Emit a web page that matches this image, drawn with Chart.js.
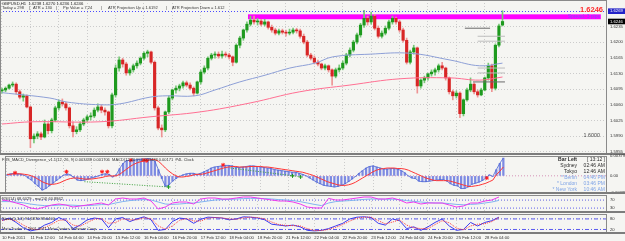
<!DOCTYPE html>
<html><head><meta charset="utf-8">
<script src="https://cdn.jsdelivr.net/npm/chart.js@4.4.1/dist/chart.umd.min.js"></script>
<style>
html,body{margin:0;padding:0;background:#f5f5f2;}
#wrap{position:relative;width:625px;height:241px;overflow:hidden;background:#f5f5f2;}
canvas{position:absolute;left:0;}
</style></head><body>
<div id="wrap">
<canvas id="c1" width="625" height="166" style="top:-6px;width:625px;height:166px"></canvas>
<canvas id="c2" width="625" height="49" style="top:150px;width:625px;height:49px"></canvas>
<canvas id="c3" width="625" height="29" style="top:189px;width:625px;height:29px"></canvas>
<canvas id="c4" width="625" height="33" style="top:208px;width:625px;height:33px"></canvas>
</div>
<script>
// ---------------- DATA ----------------
const timeLabels = ['10 Feb 2011','11 Feb 12:00','14 Feb 04:00','14 Feb 20:00','15 Feb 12:00','16 Feb 04:00','16 Feb 20:00','17 Feb 12:00','18 Feb 04:00','18 Feb 20:00','21 Feb 12:00','22 Feb 04:00','22 Feb 20:00','23 Feb 12:00','24 Feb 04:00','24 Feb 20:00','25 Feb 12:00','28 Feb 04:00'];
const timeTickIdx = [0,8,16,24,32,40,48,56,64,72,80,88,96,104,112,120,128,136];
const priceTicks = [1.5955,1.5990,1.6025,1.6060,1.6095,1.6130,1.6165,1.6200,1.6235];

const open = [1.6091,1.6093,1.6097,1.6104,1.6106,1.6089,1.6077,1.6080,1.6055,1.5984,
1.5990,1.5995,1.5988,1.6017,1.6002,1.6026,1.6053,1.6066,1.6062,1.6053,
1.6013,1.6000,1.6004,1.6017,1.6026,1.6033,1.6035,1.6048,1.6055,1.6048,
1.6044,1.6013,1.6082,1.6142,1.6160,1.6151,1.6131,1.6138,1.6147,1.6153,
1.6164,1.6175,1.6178,1.6155,1.6053,1.6008,1.6004,1.6044,1.6075,1.6093,
1.6097,1.6102,1.6109,1.6104,1.6097,1.6086,1.6111,1.6133,1.6142,1.6164,
1.6171,1.6173,1.6169,1.6173,1.6171,1.6167,1.6155,1.6193,1.6209,1.6227,
1.6240,1.6249,1.6245,1.6247,1.6240,1.6245,1.6233,1.6227,1.6220,1.6225,
1.6222,1.6220,1.6222,1.6227,1.6225,1.6213,1.6200,1.6171,1.6164,1.6155,
1.6151,1.6142,1.6147,1.6138,1.6124,1.6138,1.6142,1.6153,1.6171,1.6182,
1.6200,1.6216,1.6238,1.6253,1.6245,1.6258,1.6231,1.6213,1.6220,1.6231,
1.6245,1.6253,1.6245,1.6227,1.6204,1.6155,1.6178,1.6187,1.6102,1.6115,
1.6120,1.6129,1.6133,1.6138,1.6147,1.6142,1.6120,1.6089,1.6080,1.6086,
1.6040,1.6071,1.6093,1.6106,1.6089,1.6082,1.6093,1.6120,1.6147,1.6097,
1.6193,1.6238];
const high = [1.6097,1.6100,1.6106,1.6111,1.6109,1.6093,1.6084,1.6082,1.6057,1.5995,
1.6000,1.5999,1.6026,1.6020,1.6030,1.6057,1.6071,1.6073,1.6066,1.6055,
1.6022,1.6011,1.6022,1.6030,1.6037,1.6042,1.6053,1.6062,1.6060,1.6053,
1.6046,1.6086,1.6149,1.6167,1.6164,1.6155,1.6142,1.6151,1.6158,1.6167,
1.6178,1.6182,1.6180,1.6158,1.6057,1.6015,1.6046,1.6080,1.6095,1.6102,
1.6106,1.6113,1.6113,1.6109,1.6100,1.6113,1.6138,1.6147,1.6167,1.6175,
1.6178,1.6178,1.6180,1.6178,1.6175,1.6169,1.6196,1.6213,1.6229,1.6245,
1.6258,1.6258,1.6253,1.6251,1.6251,1.6247,1.6238,1.6231,1.6229,1.6229,
1.6227,1.6229,1.6231,1.6231,1.6229,1.6218,1.6204,1.6175,1.6169,1.6160,
1.6153,1.6151,1.6149,1.6140,1.6142,1.6149,1.6158,1.6175,1.6187,1.6204,
1.6220,1.6242,1.6271,1.6258,1.6267,1.6262,1.6236,1.6225,1.6236,1.6249,
1.6258,1.6256,1.6249,1.6231,1.6209,1.6182,1.6193,1.6189,1.6118,1.6124,
1.6131,1.6138,1.6142,1.6151,1.6155,1.6144,1.6122,1.6093,1.6091,1.6089,
1.6073,1.6097,1.6120,1.6109,1.6093,1.6097,1.6122,1.6153,1.6151,1.6196,
1.6240,1.6270];
const low = [1.6086,1.6089,1.6095,1.6100,1.6084,1.6073,1.6068,1.6053,1.5964,1.5975,
1.5984,1.5982,1.5986,1.5995,1.5997,1.6022,1.6048,1.6057,1.6048,1.6008,
1.5988,1.5995,1.6000,1.6013,1.6022,1.6026,1.6031,1.6044,1.6042,1.6037,
1.6008,1.6008,1.6077,1.6135,1.6144,1.6126,1.6126,1.6133,1.6142,1.6149,
1.6160,1.6167,1.6151,1.6048,1.6004,1.5988,1.6000,1.6040,1.6071,1.6086,
1.6091,1.6097,1.6100,1.6093,1.6080,1.6084,1.6106,1.6129,1.6138,1.6160,
1.6164,1.6164,1.6164,1.6167,1.6162,1.6147,1.6153,1.6187,1.6204,1.6222,
1.6236,1.6240,1.6238,1.6236,1.6236,1.6229,1.6222,1.6216,1.6216,1.6218,
1.6213,1.6216,1.6218,1.6220,1.6209,1.6196,1.6167,1.6160,1.6151,1.6147,
1.6138,1.6138,1.6133,1.6104,1.6120,1.6133,1.6138,1.6149,1.6167,1.6178,
1.6196,1.6211,1.6233,1.6238,1.6240,1.6227,1.6209,1.6209,1.6216,1.6227,
1.6240,1.6240,1.6222,1.6200,1.6151,1.6151,1.6173,1.6086,1.6097,1.6109,
1.6115,1.6124,1.6126,1.6133,1.6138,1.6115,1.6084,1.6071,1.6075,1.6031,
1.6035,1.6068,1.6089,1.6084,1.6077,1.6080,1.6091,1.6115,1.6089,1.6093,
1.6189,1.6236];
const close = [1.6093,1.6097,1.6104,1.6106,1.6089,1.6077,1.6080,1.6055,1.5984,1.5990,
1.5995,1.5988,1.6017,1.6002,1.6026,1.6053,1.6066,1.6062,1.6053,1.6013,
1.6000,1.6004,1.6017,1.6026,1.6033,1.6035,1.6048,1.6055,1.6048,1.6044,
1.6013,1.6082,1.6142,1.6160,1.6151,1.6131,1.6138,1.6147,1.6153,1.6164,
1.6175,1.6178,1.6155,1.6053,1.6008,1.6004,1.6044,1.6075,1.6093,1.6097,
1.6102,1.6109,1.6104,1.6097,1.6086,1.6111,1.6133,1.6142,1.6164,1.6171,
1.6173,1.6169,1.6173,1.6171,1.6167,1.6155,1.6193,1.6209,1.6227,1.6240,
1.6249,1.6245,1.6247,1.6240,1.6245,1.6233,1.6227,1.6220,1.6225,1.6222,
1.6220,1.6222,1.6227,1.6225,1.6213,1.6200,1.6171,1.6164,1.6155,1.6151,
1.6142,1.6147,1.6138,1.6124,1.6138,1.6142,1.6153,1.6171,1.6182,1.6200,
1.6216,1.6238,1.6253,1.6245,1.6258,1.6231,1.6213,1.6220,1.6231,1.6245,
1.6253,1.6245,1.6227,1.6204,1.6155,1.6178,1.6187,1.6102,1.6115,1.6120,
1.6129,1.6133,1.6138,1.6147,1.6142,1.6120,1.6089,1.6080,1.6086,1.6040,
1.6071,1.6093,1.6106,1.6089,1.6082,1.6093,1.6120,1.6147,1.6097,1.6193,
1.6236,1.6246];

const maBlueIdx = [0,13.5,18.3,27.6,33.2,41.7,46.5,54.4,60,67,74.1,81.1,88.2,93.2,103.7,115,126.2,134.6,141];
const maBlue    = [1.6087,1.6075,1.6066,1.6060,1.6062,1.6077,1.6080,1.6080,1.6093,1.6111,1.6126,1.6142,1.6153,1.6167,1.6173,1.6175,1.6160,1.6147,1.6153];
const maPinkIdx = [0,8.7,27.6,41.7,55.8,69.9,83.9,98,112.1,126.2,134.6,141];
const maPink    = [1.6017,1.6022,1.6022,1.6033,1.6044,1.6064,1.6089,1.6104,1.6118,1.6120,1.6115,1.6122];

const pivotPrice = [1.6231,1.6213,1.6202,1.6142,1.6131,1.6111];
const pivotFrom  = [130.4,134,134,134,134,132.7];
const pivotTo    = [137.5,141.7,141.7,141.7,141.7,141.7];

const spreadBandIdx = [69.3,168.7];
const spreadBandPrice = [1.6262,1.6251];
const askPrice = 1.6269;
const bidPrice = 1.6246;

const macdHist = [0.0002,0.0004,0.0005,0.0004,0.0003,0.0001,-0.0004,-0.0008,-0.0015,-0.0020,
-0.0027,-0.0024,-0.0019,-0.0014,-0.0009,-0.0004,0.0001,0.0004,0.0002,-0.0003,
-0.0008,-0.0009,-0.0008,-0.0006,-0.0004,-0.0002,0.0000,0.0003,0.0004,0.0003,
-0.0002,0.0002,0.0014,0.0024,0.0029,0.0030,0.0030,0.0031,0.0032,0.0032,
0.0033,0.0032,0.0028,0.0012,-0.0005,-0.0020,-0.0017,-0.0010,-0.0005,-0.0001,
0.0002,0.0004,0.0005,0.0005,0.0003,0.0005,0.0008,0.0011,0.0015,0.0017,
0.0018,0.0019,0.0020,0.0020,0.0019,0.0016,0.0016,0.0017,0.0018,0.0019,
0.0019,0.0018,0.0017,0.0016,0.0015,0.0014,0.0012,0.0011,0.0010,0.0009,
0.0008,0.0007,0.0007,0.0005,0.0003,0.0000,-0.0004,-0.0008,-0.0012,-0.0015,
-0.0018,-0.0019,-0.0020,-0.0021,-0.0020,-0.0018,-0.0015,-0.0011,-0.0006,-0.0001,
0.0005,0.0010,0.0015,0.0018,0.0019,0.0017,0.0015,0.0013,0.0013,0.0014,
0.0014,0.0013,0.0010,0.0006,0.0000,-0.0004,-0.0005,-0.0010,-0.0011,-0.0011,
-0.0010,-0.0009,-0.0008,-0.0007,-0.0007,-0.0010,-0.0015,-0.0018,-0.0019,-0.0024,
-0.0024,-0.0021,-0.0016,-0.0014,-0.0012,-0.0009,-0.0004,0.0002,-0.0001,0.0012,
0.0024,0.0034];
const macdSignal = [0.0003,0.0003,0.0004,0.0004,0.0004,0.0003,0.0002,0.0000,-0.0003,-0.0007,
-0.0011,-0.0014,-0.0016,-0.0016,-0.0015,-0.0013,-0.0010,-0.0007,-0.0005,-0.0004,
-0.0004,-0.0005,-0.0006,-0.0006,-0.0006,-0.0005,-0.0004,-0.0003,-0.0001,0.0000,
0.0000,0.0000,0.0003,0.0008,0.0013,0.0018,0.0022,0.0025,0.0027,0.0029,
0.0030,0.0031,0.0031,0.0028,0.0022,0.0015,0.0009,0.0004,0.0000,-0.0002,
-0.0002,-0.0001,0.0000,0.0002,0.0003,0.0003,0.0004,0.0006,0.0008,0.0010,
0.0012,0.0014,0.0016,0.0017,0.0018,0.0018,0.0017,0.0017,0.0017,0.0018,
0.0018,0.0018,0.0018,0.0017,0.0017,0.0016,0.0015,0.0014,0.0013,0.0012,
0.0011,0.0010,0.0009,0.0008,0.0007,0.0005,0.0003,0.0001,-0.0002,-0.0005,
-0.0008,-0.0011,-0.0013,-0.0015,-0.0017,-0.0018,-0.0018,-0.0017,-0.0015,-0.0012,
-0.0008,-0.0004,0.0000,0.0004,0.0008,0.0011,0.0013,0.0014,0.0015,0.0015,
0.0015,0.0014,0.0014,0.0013,0.0011,0.0008,0.0005,0.0002,-0.0001,-0.0004,
-0.0006,-0.0008,-0.0009,-0.0009,-0.0009,-0.0009,-0.0010,-0.0012,-0.0014,-0.0016,
-0.0018,-0.0020,-0.0020,-0.0019,-0.0018,-0.0016,-0.0014,-0.0011,-0.0008,0.0002,
0.0009,0.0017];
const macdTicks = [0.00379,0,-0.00325];
const redMarkIdx = [2.3,16.9,27,28.5,35.2,38.9,39.7,61.4,136.3];
const redMarkVal = [0.0006,0.0008,0.0008,0.0008,0.0030,0.0030,0.0029,0.0021,-0.0004];
const greenMarkIdx = [45.9,81.1,83.4];
const greenMarkVal = [-0.0021,0.0000,-0.0002];
const divStartIdx = [22,63.5], divStartVal = [-0.0011,0.0015];
const divEndIdx = [45.9,84], divEndVal = [-0.0021,-0.0002];

// oscillators sampled every 2 bars
const rsi   = [70,65,55,45,30,25,35,45,50,45,35,40,45,50,55,45,75,80,75,75,80,65,25,35,55,60,60,50,75,80,80,75,75,80,85,85,80,75,70,65,65,60,50,35,30,30,78,70,70,75,80,85,85,75,75,80,70,55,60,50,55,55,55,45,35,40,55,55,65,70,85];
const rsiMa = [62,62,60,56,50,45,42,42,44,45,44,42,42,44,47,47,55,62,67,70,72,70,60,50,48,50,53,55,60,65,70,72,73,75,77,78,78,77,75,72,70,67,62,55,48,42,55,62,65,67,70,73,75,75,74,74,72,67,63,60,57,55,55,52,48,46,48,50,55,60,68];
const rsiLevels = [70,30];
const stochMain = [70,85,60,30,12,20,45,60,88,70,25,45,75,85,80,30,80,88,65,80,92,75,15,20,65,85,80,55,78,90,88,85,75,80,92,90,85,75,50,45,40,45,35,15,12,15,25,40,55,80,90,92,88,55,45,80,70,25,35,15,35,60,80,40,15,20,60,40,60,70,90];
const stochSig  = [72,78,70,45,25,18,30,50,72,75,45,38,60,78,82,55,60,80,75,75,86,82,40,22,40,72,82,68,68,84,88,86,80,78,86,90,88,80,62,48,43,42,40,25,14,14,20,32,48,68,84,90,90,70,52,62,75,45,30,25,25,48,70,58,28,18,40,50,52,65,88];
const stochLevels = [80,20];

// ---------------- STYLE / HELPERS ----------------
const FONT = "'Liberation Sans', Arial, sans-serif";
const X_MIN = -0.563, X_MAX = 170.44;
const GRID = '#cbcbcb';
function py(chart, Y){ return Y - chart.canvas.offsetTop; }
function txt(ctx, s, x, y, color, size, bold, align){
  ctx.save();
  ctx.font = (bold ? 'bold ' : '') + size + 'px ' + FONT;
  ctx.fillStyle = color; ctx.textAlign = align || 'left'; ctx.textBaseline = 'middle';
  ctx.fillText(s, x, y); ctx.restore();
}
function xScale(show){
  return { type:'linear', min:X_MIN, max:X_MAX, offset:false,
    afterBuildTicks: s => { s.ticks = timeTickIdx.map(v => ({value:v})); },
    afterFit: s => { s.height = show ? 8 : 0; },
    grid:{ color:GRID, drawTicks:false, offset:false },
    border:{ display:false, dash:[1,2] },
    ticks:{ display:show, autoSkip:false, maxRotation:0, minRotation:0, align:'start', padding:2,
      color:'#333', font:{family:FONT, size:4.2}, callback:(v,i) => timeLabels[i] } };
}
function yScale(min, max, ticks, fmt){
  return { position:'right', min, max,
    afterBuildTicks: s => { s.ticks = ticks.map(v => ({value:v})); },
    afterFit: s => { s.width = 18; },
    grid:{ color:GRID, drawTicks:false },
    border:{ display:false, dash:[1,2] },
    ticks:{ autoSkip:false, padding:3, color:'#333', font:{family:FONT, size:4.2}, callback:fmt } };
}
const framePlugin = { id:'frame', afterDraw(chart){
  const {ctx, chartArea:a} = chart;
  ctx.save(); ctx.strokeStyle = '#8a8a8a'; ctx.lineWidth = 1;
  ctx.strokeRect(a.left + 0.5, a.top + 0.5, a.right - a.left - 1, a.bottom - a.top - 1);
  ctx.fillStyle = '#7c7c7c';
  ctx.fillRect(0, a.bottom - 1, 625, 2);
  ctx.restore();
}};
function baseOptions(padTop, padBottom, xs, ys){
  return { responsive:false, animation:false, events:[], devicePixelRatio:1,
    layout:{ padding:{ top:padTop, bottom:padBottom, left:0, right:0 } },
    plugins:{ legend:{display:false}, tooltip:{enabled:false} },
    scales:{ x:xs, y:ys } };
}
function levelLine(v, color, dash){
  return { type:'line', data:[{x:X_MIN,y:v},{x:X_MAX,y:v}], borderColor:color, borderWidth:1,
    borderDash:dash, pointRadius:0, order:9 };
}

// ---------------- MAIN PRICE CHART ----------------
const idx = close.map((_, i) => i);
const isUp = idx.map(i => close[i] >= open[i]);
const mainOverlay = { id:'mainOverlay',
  beforeDatasetsDraw(chart){
    const {ctx, scales:{x, y}} = chart;
    const x0 = x.getPixelForValue(spreadBandIdx[0]), x1 = x.getPixelForValue(spreadBandIdx[1]);
    const y0 = y.getPixelForValue(spreadBandPrice[0]), y1 = y.getPixelForValue(spreadBandPrice[1]);
    ctx.save(); ctx.fillStyle = '#ff00ff'; ctx.fillRect(x0, y0, x1 - x0, y1 - y0); ctx.restore();
  },
  afterDatasetsDraw(chart){
    const {ctx, chartArea:a, scales:{x, y}} = chart;
    const ya = Math.round(y.getPixelForValue(askPrice)) + 0.5;
    ctx.save(); ctx.strokeStyle = '#4a4aff'; ctx.setLineDash([1,2]); ctx.lineWidth = 1;
    ctx.beginPath(); ctx.moveTo(a.left, ya); ctx.lineTo(a.right, ya); ctx.stroke(); ctx.restore();
    txt(ctx, '1.6246', 603, py(chart, 9.5), '#ff2a2a', 7.5, true, 'right');
    txt(ctx, 'Spread: 3 pips', 600, y.getPixelForValue((spreadBandPrice[0] + spreadBandPrice[1]) / 2), '#8a44ff', 5, false, 'right');
    txt(ctx, '1.6000', 600, py(chart, 136), '#4a4a4a', 5.4, false, 'right');
  },
  afterDraw(chart){
    const {ctx, scales:{y}} = chart;
    txt(ctx, 'GBPUSD,H1  1.6238 1.6270 1.6236 1.6246', 2, py(chart, 4), '#222', 4.2);
    const Y2 = py(chart, 8.3);
    txt(ctx, 'Today = 298', 2, Y2, '#333', 4);
    txt(ctx, '|', 29, Y2, '#333', 4);
    txt(ctx, 'ATR = 130', 33, Y2, '#333', 4);
    txt(ctx, '|', 56, Y2, '#333', 4);
    txt(ctx, 'Pip Value = 7.24', 63, Y2, '#333', 4);
    txt(ctx, '|', 101, Y2, '#333', 4);
    txt(ctx, 'ATR Projection Up = 1.6192', 108, Y2, '#333', 4);
    txt(ctx, '|', 166, Y2, '#333', 4);
    txt(ctx, 'ATR Projection Down = 1.612', 172, Y2, '#333', 4);
    const boxes = [[askPrice, '#2323c8'], [bidPrice, '#000000']];
    boxes.forEach(([p, c]) => {
      const yy = y.getPixelForValue(p);
      ctx.save(); ctx.fillStyle = c; ctx.fillRect(608, yy - 2.8, 17, 5.6); ctx.restore();
      txt(ctx, p.toFixed(4), 610, yy, '#ffffff', 4.2);
    });
  }
};
const mainDatasets = [
  { type:'bar', data: idx.map(i => ({x:i, y:[low[i], high[i]]})),
    backgroundColor: idx.map(i => isUp[i] ? '#78c878' : '#ee9494'), barThickness:1, grouped:false, order:6 },
  { type:'bar', data: idx.map(i => ({x:i, y:[open[i], close[i]]})),
    backgroundColor: idx.map(i => isUp[i] ? '#1e9a1e' : '#d82626'), barThickness:2.5, minBarLength:1, grouped:false, order:5 },
  { type:'line', data: maBlueIdx.map((v, k) => ({x:v, y:maBlue[k]})), borderColor:'#8d9fd6', borderWidth:1, pointRadius:0, tension:0.4, order:2 },
  { type:'line', data: maPinkIdx.map((v, k) => ({x:v, y:maPink[k]})), borderColor:'#ff6f92', borderWidth:1, pointRadius:0, tension:0.4, order:2 }
];
pivotPrice.forEach((p, k) => {
  mainDatasets.push({ type:'line', data:[{x:pivotFrom[k], y:p}, {x:pivotTo[k], y:p}],
    borderColor: (k === 0 || k === 5) ? '#6a6a6a' : '#bdbdbd', borderWidth:1, pointRadius:0, order:1 });
});
new Chart(document.getElementById('c1'), {
  type:'bar', data:{ datasets: mainDatasets },
  options: baseOptions(6, 6, xScale(false), yScale(1.5950, 1.6294, priceTicks, v => v.toFixed(4))),
  plugins:[mainOverlay, framePlugin]
});

// ---------------- MACD PANEL ----------------
const macdOverlay = { id:'macdOverlay', afterDraw(chart){
  const ctx = chart.ctx;
  txt(ctx, 'FXS_MACD_Divergence_v1.1(12, 26, 9) 0.003438 0.001706  MACD(12,26,9) 0.003438 0.00171  P4L Clock', 2, py(chart, 160), '#333', 4);
  const dark = '#2a2a2a', lite = '#7ea3e6';
  const rows = [['Bar Left','[ 13:12 ]',160,dark,true],['Sydney','02:46 AM',166,dark,false],['Tokyo','12:46 AM',172,dark,false],
    ['* Berlin','04:46 PM',178,lite,false],['* London','03:46 PM',183.7,lite,false],['* New York','10:46 AM',189.3,lite,false]];
  rows.forEach(r => { txt(ctx, r[0], 577, py(chart, r[2]), r[3], 5, r[4], 'right'); txt(ctx, r[1], 605, py(chart, r[2]), r[3], 5, false, 'right'); });
}};
const macdDatasets = [
  levelLine(0, '#e7a3c8', [1,2]),
  { type:'bar', data: idx.map(i => ({x:i, y:macdHist[i]})), backgroundColor:'#7d8ae2', barThickness:1.6, grouped:false, order:5 },
  { type:'line', data: idx.map(i => ({x:i, y:macdHist[i]})), borderColor:'#4a64d4', borderWidth:0.8, pointRadius:0, order:4 },
  { type:'line', data: idx.map(i => ({x:i, y:macdSignal[i]})), borderColor:'#ff3434', borderWidth:1, pointRadius:0, order:3 },
  { type:'line', data: redMarkIdx.map((v, k) => ({x:v, y:redMarkVal[k]})), showLine:false, pointStyle:'star', pointRadius:2, borderColor:'#ff1a1a', borderWidth:1, order:1 },
  { type:'line', data: greenMarkIdx.map((v, k) => ({x:v, y:greenMarkVal[k]})), showLine:false, pointStyle:'cross', pointRadius:2, borderColor:'#1a9a1a', borderWidth:1, order:1 }
];
divStartIdx.forEach((v, k) => macdDatasets.push({ type:'line', data:[{x:v, y:divStartVal[k]}, {x:divEndIdx[k], y:divEndVal[k]}],
  borderColor:'#3aa03a', borderDash:[1,1.5], borderWidth:1, pointRadius:0, order:2 }));
new Chart(document.getElementById('c2'), {
  type:'bar', data:{ datasets: macdDatasets },
  options: baseOptions(6, 6, xScale(false), yScale(-0.00325, 0.00379, macdTicks, v => v === 0 ? '0.00' : v.toFixed(5))),
  plugins:[macdOverlay, framePlugin]
});

// ---------------- RSI PANEL ----------------
const rsiOverlay = { id:'rsiOverlay', afterDraw(chart){
  txt(chart.ctx, 'RSI(14) 68.6029 , ma(24) 60.8842', 2, py(chart, 198.5), '#333', 4);
}};
new Chart(document.getElementById('c3'), {
  type:'line',
  data:{ datasets:[
    ...rsiLevels.map(v => levelLine(v, '#7272ff', [1,2])),
    { data: rsiMa.map((v, k) => ({x:k * 2, y:v})), borderColor:'#80b4f0', borderWidth:1, pointRadius:0, order:3 },
    { data: rsi.map((v, k) => ({x:k * 2, y:v})), borderColor:'#ee38ee', borderWidth:1, pointRadius:0, order:2 }
  ]},
  options: baseOptions(6, 6, xScale(false), yScale(10, 95, rsiLevels, v => String(v))),
  plugins:[rsiOverlay, framePlugin]
});

// ---------------- STOCHASTIC PANEL ----------------
const stochOverlay = { id:'stochOverlay', afterDraw(chart){
  txt(chart.ctx, 'Stoch(5,3,3) 91.6870 88.6400', 2, py(chart, 218.5), '#333', 4);
  txt(chart.ctx, 'MetaTrader © 2001-2011 MetaQuotes Software Corp.', 2, py(chart, 229), '#333', 4);
}};
new Chart(document.getElementById('c4'), {
  type:'line',
  data:{ datasets:[
    ...stochLevels.map(v => levelLine(v, '#5a5af0', [4,2,1,2])),
    { data: stochMain.map((v, k) => ({x:k * 2, y:v})), borderColor:'#3a3af0', borderWidth:1, pointRadius:0, order:3 },
    { data: stochSig.map((v, k) => ({x:k * 2, y:v})), borderColor:'#ff3a3a', borderWidth:1, borderDash:[1,1], pointRadius:0, order:2 }
  ]},
  options: baseOptions(6, 0, xScale(true), yScale(0, 108, stochLevels, v => String(v))),
  plugins:[stochOverlay, framePlugin]
});
</script>
</body></html>
